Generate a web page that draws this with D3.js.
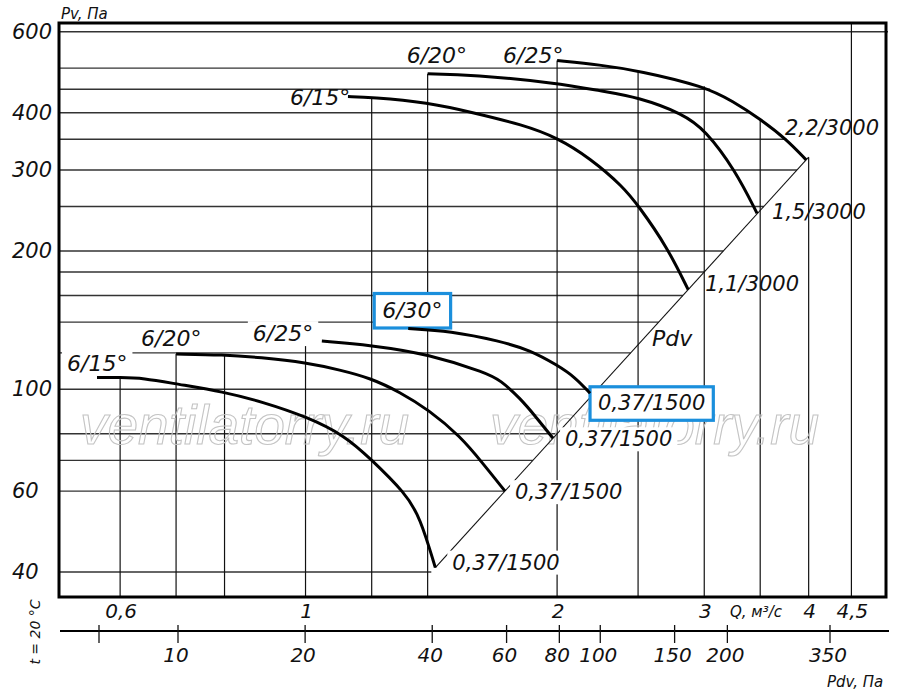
<!DOCTYPE html>
<html>
<head>
<meta charset="utf-8">
<script src="https://cdn.jsdelivr.net/npm/d3@7"></script>
<style>
  body { margin: 0; background: #fff; }
  text { font-family: "DejaVu Sans", sans-serif; font-style: italic; fill: #111; }
</style>
</head>
<body>
<svg id="chart" width="900" height="695"></svg>
<script>
// ---- data ----
const flowGrid = [0.6, 0.7, 0.8, 1, 1.2, 1.4, 2, 2.5, 3, 3.5, 4, 4.5];          // Q, m3/s
const pressGrid = [40, 60, 70, 80, 100, 120, 140, 160, 180, 200, 250, 300, 350, 400, 450, 500, 600]; // Pv, Pa
const pressTicks = [40, 60, 100, 200, 300, 400, 600];
const flowTicks = [0.6, 1, 2, 3, 4, 4.5];
const flowTickLabels = ["0,6", "1", "2", "3", "4", "4,5"];
const pdvTicks = [6.5, 10, 20, 40, 60, 80, 100, 150, 200, 350];
const pdvTickLabels = ["", "10", "20", "40", "60", "80", "100", "150", "200", "350"];

// dynamic pressure line (straight on log-log)
const pdvQ = [1.43, 4.0];
const pdvP = [40.9, 320];

// 3000 rpm curves
const qUp15 = [1.124, 1.198, 1.402, 1.586, 1.821, 2.0, 2.19, 2.399, 2.507, 2.707, 2.87];
const pUp15 = [433.7, 432.4, 420.9, 400.2, 376.3, 353.1, 318.4, 276.1, 249.7, 204.4, 164.7];
const qUp20 = [1.40, 1.586, 2.0, 2.251, 2.507, 2.83, 3.008, 3.266, 3.47];
const pUp20 = [486.1, 483.7, 463.9, 446.3, 432.0, 397.6, 366.9, 300.3, 241.5];
const qUp25 = [2.0, 2.251, 2.507, 3.008, 3.248, 3.489, 3.77, 3.972];
const pUp25 = [519.4, 508.4, 493.4, 456.0, 423.0, 389.1, 349.1, 315.7];

// 1500 rpm curves
const qLo15 = [0.563, 0.6, 0.639, 0.702, 0.797, 0.887, 1.004, 1.115, 1.195, 1.316, 1.371, 1.43];
const pLo15 = [106.1, 106.1, 105.8, 102.6, 98.8, 93.9, 87.1, 79.2, 70.7, 59.5, 52.7, 40.9];
const qLo20 = [0.70, 0.797, 0.882, 1.004, 1.1, 1.195, 1.297, 1.405, 1.531, 1.631, 1.733];
const pLo20 = [119.3, 118.9, 117.3, 114.2, 110.1, 105.8, 98.6, 90.1, 79.1, 68.9, 60.0];
const qLo25 = [1.046, 1.195, 1.405, 1.649, 1.709, 1.806, 1.892, 1.978];
const pLo25 = [127.3, 124.8, 119.3, 108.4, 104.7, 95.7, 86.5, 78.2];
const qLo30 = [1.327, 1.489, 1.709, 1.856, 2.0, 2.101, 2.19];
const pLo30 = [135.6, 133.9, 127.3, 121.7, 112.9, 106.3, 98.0];

const curves = [
  { id: "up15", angle: "6/15°", motor: "1,1/3000", q: qUp15, p: pUp15 },
  { id: "up20", angle: "6/20°", motor: "1,5/3000", q: qUp20, p: pUp20 },
  { id: "up25", angle: "6/25°", motor: "2,2/3000", q: qUp25, p: pUp25 },
  { id: "lo15", angle: "6/15°", motor: "0,37/1500", q: qLo15, p: pLo15 },
  { id: "lo20", angle: "6/20°", motor: "0,37/1500", q: qLo20, p: pLo20 },
  { id: "lo25", angle: "6/25°", motor: "0,37/1500", q: qLo25, p: pLo25 },
  { id: "lo30", angle: "6/30°", motor: "0,37/1500", q: qLo30, p: pLo30 }
];

// ---- layout ----
const svg = d3.select("#chart");
const fL = 59, fT = 23, fR = 886, fB = 597;
const x = d3.scaleLog().domain([0.507, 4.95]).range([fL, fR]);
const y = d3.scaleLog().domain([627, 35.3]).range([fT, fB]);
const xPdv = d3.scaleLog().domain([10, 350]).range([178, 830]);

// label offsets from curve start (angle) / end (motor), px
const labelPos = {
  up15: { a: [-58, 8], m: [17, 1] },
  up20: { a: [-21, -11], m: [15, 6] },
  up25: { a: [-54, 2], m: [-21, -25] },
  lo15: { a: [-30, -6], m: [17, 2], bg: true },
  lo20: { a: [-35, -8], m: [10, 8], bg: true },
  lo25: { a: [-69, 0], m: [12, 8], bg: true },
  lo30: { a: [-26, -10.5], m: [8, 17], box: true }
};

const L = Math.log;

// pressure on a curve at flow q (log-log interpolation)
function pAt(c, q) {
  const n = c.q.length;
  if (q < c.q[0] * 0.95 || q > c.q[n - 1]) return null;
  if (q <= c.q[0]) return c.p[0];
  for (let i = 0; i < n - 1; i++) {
    if (q >= c.q[i] && q <= c.q[i + 1]) {
      const t = (L(q) - L(c.q[i])) / (L(c.q[i + 1]) - L(c.q[i]));
      return Math.exp(L(c.p[i]) + t * (L(c.p[i + 1]) - L(c.p[i])));
    }
  }
  return null;
}
// largest flow on a curve at pressure p
function qAt(c, p) {
  let best = null;
  for (let i = 0; i < c.q.length - 1; i++) {
    const a = c.p[i], b = c.p[i + 1];
    if (a === b || (p - a) * (p - b) > 0) continue;
    const t = (L(p) - L(a)) / (L(b) - L(a));
    const q = Math.exp(L(c.q[i]) + t * (L(c.q[i + 1]) - L(c.q[i])));
    if (best === null || q > best) best = q;
  }
  return best;
}
function pdvFlow(p) {
  const k = (L(pdvQ[1]) - L(pdvQ[0])) / (L(pdvP[1]) - L(pdvP[0]));
  return Math.exp(L(pdvQ[0]) + (L(p) - L(pdvP[0])) * k);
}

// ---- grid ----
const gGrid = svg.append("g");
pressGrid.forEach(p => {
  let qEnd = null;
  if (p <= pdvP[1]) qEnd = pdvFlow(p);
  else curves.forEach(c => {
    const q = qAt(c, p);
    if (q !== null && (qEnd === null || q > qEnd)) qEnd = q;
  });
  gGrid.append("line")
    .attr("x1", fL).attr("x2", qEnd === null ? fR + 2 : x(qEnd))
    .attr("y1", y(p)).attr("y2", y(p))
    .attr("stroke", "#333").attr("stroke-width", 1.4);
});
flowGrid.forEach(q => {
  let pTop = null;
  curves.forEach(c => {
    const p = pAt(c, q);
    if (p !== null && (pTop === null || p > pTop)) pTop = p;
  });
  if (q >= pdvQ[0] && q <= pdvQ[1]) {
    const p = Math.exp(L(pdvP[0]) + (L(q) - L(pdvQ[0])) * (L(pdvP[1]) - L(pdvP[0])) / (L(pdvQ[1]) - L(pdvQ[0])));
    if (pTop === null || p > pTop) pTop = p;
  }
  gGrid.append("line")
    .attr("x1", x(q)).attr("x2", x(q))
    .attr("y1", pTop === null ? fT : y(pTop)).attr("y2", fB)
    .attr("stroke", "#111").attr("stroke-width", 1.2);
});

// watermark
["ventilatorry.ru", "ventilatorry.ru"].forEach((w, i) => {
  svg.append("text").attr("x", i ? 490 : 80).attr("y", 444)
    .style("font-family", "'Liberation Sans', Arial, sans-serif")
    .style("fill", "none").attr("stroke", "#c4c4c4").attr("stroke-width", 1.1)
    .attr("font-size", 55).text(w);
});

// Pdv line
svg.append("line")
  .attr("x1", x(pdvQ[0])).attr("y1", y(pdvP[0]))
  .attr("x2", x(pdvQ[1])).attr("y2", y(pdvP[1]))
  .attr("stroke", "#111").attr("stroke-width", 1.1);

// ---- labels ----
const gLab = svg.append("g");
function label(txt, px, py, size, opt) {
  const grp = gLab.append("g");
  const t = grp.append("text").attr("x", px).attr("y", py).attr("font-size", size).text(txt);
  if (opt && (opt.bg || opt.box)) {
    const b = t.node().getBBox();
    const pad = opt.box ? { x: 8, t: 4.5, b: 5 } : { x: 5, t: 0, b: 0 };
    grp.insert("rect", "text")
      .attr("x", b.x - pad.x).attr("y", b.y - pad.t)
      .attr("width", b.width + 2 * pad.x).attr("height", b.height + pad.t + pad.b)
      .attr("fill", "#fff")
      .attr("stroke", opt.box ? "#1b8fdc" : "none").attr("stroke-width", 3.2);
  }
  return t;
}

curves.forEach(c => {
  const lp = labelPos[c.id];
  const n = c.q.length;
  const sx = x(c.q[0]), sy = y(c.p[0]);
  const ex = x(c.q[n - 1]), ey = y(c.p[n - 1]);
  label(c.angle, sx + lp.a[0], sy + lp.a[1], 22, { bg: lp.bg, box: lp.box });
  label(c.motor, ex + lp.m[0], ey + lp.m[1], 21, { bg: lp.bg, box: lp.box });
});
label("Pdv", 652, 346, 22);

// ---- curves ----
const line = d3.line().x(d => x(d[0])).y(d => y(d[1])).curve(d3.curveBasis);
svg.append("g").selectAll("path").data(curves).join("path")
  .attr("d", c => line(c.q.map((q, i) => [q, c.p[i]])))
  .attr("fill", "none").attr("stroke", "#000").attr("stroke-width", 3);

// ---- frame ----
svg.append("rect").attr("x", fL).attr("y", fT).attr("width", fR - fL).attr("height", fB - fT)
  .attr("fill", "none").attr("stroke", "#000").attr("stroke-width", 3);

// ---- axes ----
pressTicks.forEach(p => {
  svg.append("text").attr("x", 12).attr("y", y(p) + 7).attr("font-size", 21).text(p);
});
svg.append("text").attr("x", 61).attr("y", 19).attr("font-size", 15).text("Pv, Па");

flowTicks.forEach((q, i) => {
  svg.append("text").attr("x", x(q) + 1).attr("y", 618).attr("text-anchor", "middle")
    .attr("font-size", 20).text(flowTickLabels[i]);
});
svg.append("text").attr("x", 730).attr("y", 617).attr("font-size", 15).text("Q, м³/с");

// dynamic pressure scale under the chart
const axisY = 631;
svg.append("line").attr("x1", 60).attr("x2", 889).attr("y1", axisY).attr("y2", axisY)
  .attr("stroke", "#000").attr("stroke-width", 2);
pdvTicks.forEach((v, i) => {
  svg.append("line").attr("x1", xPdv(v)).attr("x2", xPdv(v)).attr("y1", axisY - 6).attr("y2", axisY + 12)
    .attr("stroke", "#111").attr("stroke-width", 1.3);
  if (pdvTickLabels[i]) {
    svg.append("text").attr("x", xPdv(v) - 2).attr("y", 662).attr("text-anchor", "middle")
      .attr("font-size", 20).text(pdvTickLabels[i]);
  }
});
svg.append("text").attr("x", 827).attr("y", 687).attr("font-size", 15).text("Pdv, Па");
svg.append("text").attr("transform", "translate(40,632) rotate(-90)").attr("text-anchor", "middle")
  .attr("font-size", 14).text("t = 20 °C");
</script>
</body>
</html>
